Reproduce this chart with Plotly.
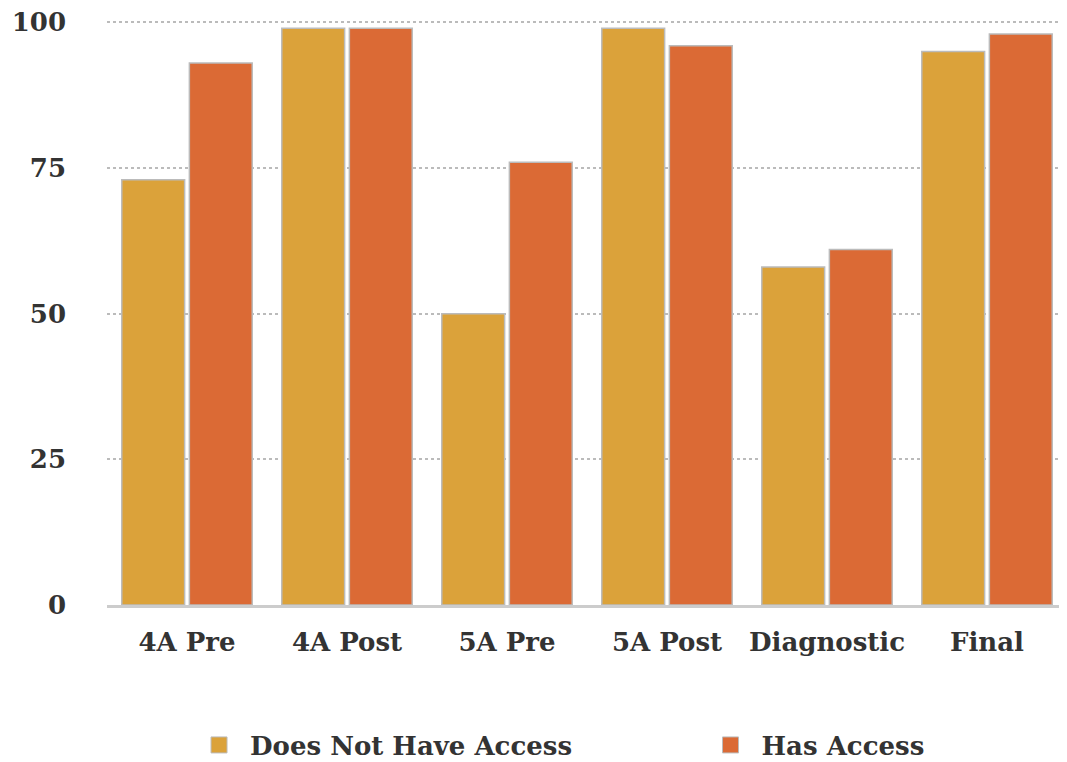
import plotly.graph_objects as go

categories = ["4A Pre", "4A Post", "5A Pre", "5A Post", "Diagnostic", "Final"]
no_access = [73, 99, 50, 99, 58, 95]
has_access = [93, 99, 76, 96, 61, 98]
y_ticks = [0, 25, 50, 75, 100]
series_names = ["Does Not Have Access", "Has Access"]
series_colors = ["#DBA23A", "#DB6A35"]

FONT = "DejaVu Serif"
TXT = "#333333"

fig = go.Figure()
for name, vals, col in zip(series_names, [no_access, has_access], series_colors):
    fig.add_trace(go.Bar(name=name, x=categories, y=vals, showlegend=False,
                         marker=dict(color=col, line=dict(color="#BBBBBB", width=1.5))))

# legend entries (one legend per series so they can be spaced like the original)
for i, (name, col) in enumerate(zip(series_names, series_colors)):
    fig.add_trace(go.Scatter(name=name, x=[None], y=[None], mode="markers",
                             legend="legend" if i == 0 else "legend2",
                             marker=dict(symbol="square", size=16, color=col,
                                         line=dict(color="#BBBBBB", width=1))))

leg_common = dict(orientation="h", xanchor="left", yanchor="middle", yref="container",
                  xref="container", y=0.0225, itemsizing="trace", itemwidth=52,
                  font=dict(family=FONT, size=26, color=TXT, weight="bold"))

fig.update_layout(
    width=1059, height=754,
    paper_bgcolor="white", plot_bgcolor="white",
    margin=dict(l=99, r=0, t=12, b=157, autoexpand=False),
    barmode="group", bargap=0.155, bargroupgap=0.07,
    font=dict(family=FONT, color=TXT, size=26),
    showlegend=True,
    legend=dict(x=0.17, **leg_common),
    legend2=dict(x=0.653, **leg_common),
)
fig.update_xaxes(showline=True, linecolor="#CCCCCC", linewidth=3, ticks="",
                 tickfont=dict(family=FONT, size=26, color=TXT, weight="bold"),
                 ticklabelstandoff=12, showgrid=False)
fig.update_yaxes(range=[0, 100.4], tickvals=y_ticks, showgrid=True, gridcolor="#BBBBBB",
                 griddash="dot", gridwidth=2, zeroline=False, showline=False,
                 tickfont=dict(family=FONT, size=26, color=TXT, weight="bold"),
                 ticklabelstandoff=40, ticklabeloverflow="allow")

fig.write_html("out.html")
